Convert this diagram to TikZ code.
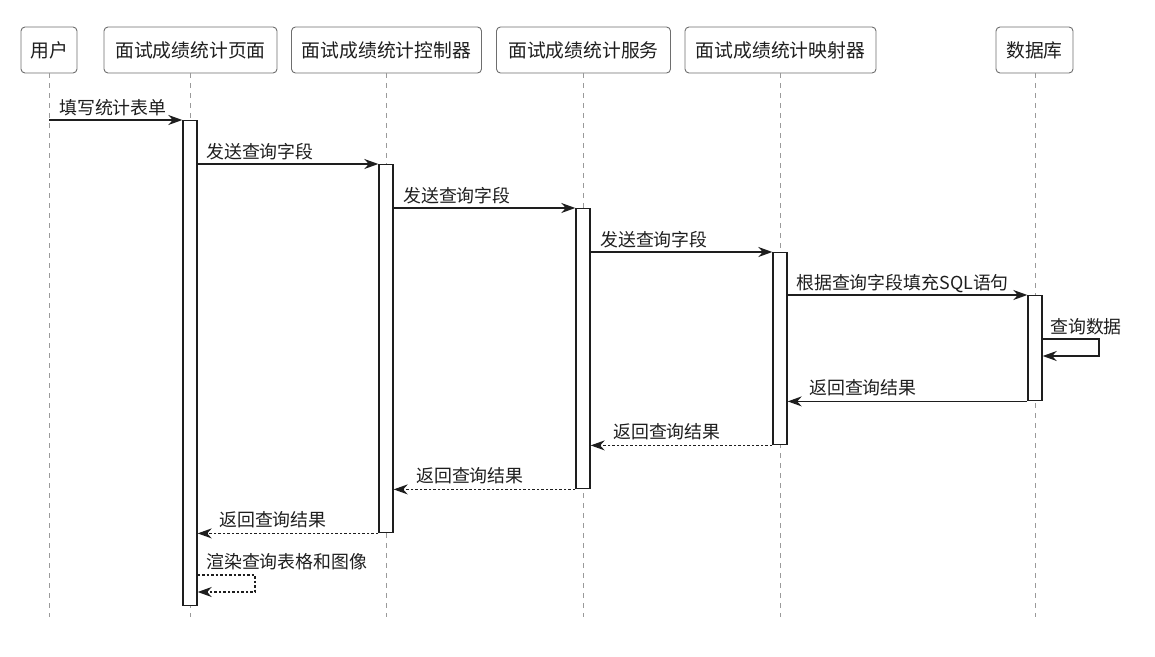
\documentclass[tikz,border=0pt]{standalone}
\usepackage{fontspec}
\setmainfont{Noto Sans CJK SC}
\usetikzlibrary{arrows.meta}
\definecolor{boxline}{HTML}{6E6E6E}
\definecolor{lifegray}{HTML}{9A9A9A}
\definecolor{ink}{HTML}{1E1E1E}
\begin{document}
\begin{tikzpicture}[x=1pt,y=-1pt,
  actor/.style={draw=boxline,line width=0.9pt,rounded corners=4pt,fill=white,
    minimum height=46pt,inner sep=0pt,font=\fontsize{18.8}{20}\selectfont,text=ink},
  lifeline/.style={draw=lifegray,line width=0.9pt,dash pattern=on 5pt off 5pt},
  actbar/.style={draw=ink,line width=1.4pt,fill=white,minimum width=14pt,
    inner sep=0pt,anchor=north},
  msg/.style={draw=ink,line width=1.2pt,-{Stealth[length=14pt,width=10pt,inset=4.5pt]}},
  ret/.style={msg,dash pattern=on 2.5pt off 2pt},
  lbl/.style={inner sep=0pt,anchor=base west,font=\fontsize{17.9}{19}\selectfont,text=ink}
]
\useasboundingbox (0,0) rectangle (1155,656);

% participants
\node[actor,minimum width=56pt]  (user) at (49,50)    {用户};
\node[actor,minimum width=173pt] (page) at (190.5,50) {面试成绩统计页面};
\node[actor,minimum width=190pt] (ctrl) at (386.5,50) {面试成绩统计控制器};
\node[actor,minimum width=174pt] (svc)  at (583.5,50) {面试成绩统计服务};
\node[actor,minimum width=191pt] (map)  at (780.5,50) {面试成绩统计映射器};
\node[actor,minimum width=77pt]  (db)   at (1034.5,50){数据库};

% lifelines
\coordinate (userEnd) at (49,617);
\coordinate (pageEnd) at (190,617);
\coordinate (ctrlEnd) at (386,617);
\coordinate (svcEnd)  at (583,617);
\coordinate (mapEnd)  at (780,617);
\coordinate (dbEnd)   at (1035,617);
\draw[lifeline] (user.south) -- (userEnd);
\draw[lifeline] (page.south -| pageEnd) -- (pageEnd);
\draw[lifeline] (ctrl.south -| ctrlEnd) -- (ctrlEnd);
\draw[lifeline] (svc.south -| svcEnd) -- (svcEnd);
\draw[lifeline] (map.south -| mapEnd) -- (mapEnd);
\draw[lifeline] (db.south -| dbEnd) -- (dbEnd);

% activation bars
\node[actbar,minimum height=485pt] (pageA) at (190,120)  {};
\node[actbar,minimum height=368pt] (ctrlA) at (386,164)  {};
\node[actbar,minimum height=280pt] (svcA)  at (583,208)  {};
\node[actbar,minimum height=192pt] (mapA)  at (780,252)  {};
\node[actbar,minimum height=105pt] (dbA)   at (1035,295) {};

% calls
\draw[msg] (userEnd |- pageA.north) -- (pageA.north west);
\node[lbl] (m1) at (59,114.5) {填写统计表单};

\draw[msg] (pageA.east |- ctrlA.north) -- (ctrlA.north west);
\node[lbl] (m2) at (206,158.5) {发送查询字段};

\draw[msg] (ctrlA.east |- svcA.north) -- (svcA.north west);
\node[lbl] (m3) at (403,202.5) {发送查询字段};

\draw[msg] (svcA.east |- mapA.north) -- (mapA.north west);
\node[lbl] (m4) at (600,246.5) {发送查询字段};

\draw[msg] (mapA.east |- dbA.north) -- (dbA.north west);
\node[lbl] (m5) at (796,289.5) {根据查询字段填充SQL语句};

% self call on the database
\coordinate (dbLoopA) at (1099,339);
\coordinate (dbLoopB) at (1099,356);
\draw[msg] (dbA.east |- dbLoopA) -- (dbLoopA) -- (dbLoopB) -- (dbA.east |- dbLoopB);
\node[lbl] (m6) at (1050,333) {查询数据};

% returns
\draw[msg] (dbA.south west) -- (mapA.east |- dbA.south);
\node[lbl] (r1) at (809,394.5) {返回查询结果};

\draw[ret] (mapA.south west) -- (svcA.east |- mapA.south);
\node[lbl] (r2) at (613,438.5) {返回查询结果};

\draw[ret] (svcA.south west) -- (ctrlA.east |- svcA.south);
\node[lbl] (r3) at (416,482.5) {返回查询结果};

\draw[ret] (ctrlA.south west) -- (pageA.east |- ctrlA.south);
\node[lbl] (r4) at (219,526.5) {返回查询结果};

% self call on the page
\coordinate (pgLoopA) at (255,575);
\coordinate (pgLoopB) at (255,592);
\draw[ret] (pageA.east |- pgLoopA) -- (pgLoopA) -- (pgLoopB) -- (pageA.east |- pgLoopB);
\node[lbl] (r5) at (206,568) {渲染查询表格和图像};
\end{tikzpicture}
\end{document}
